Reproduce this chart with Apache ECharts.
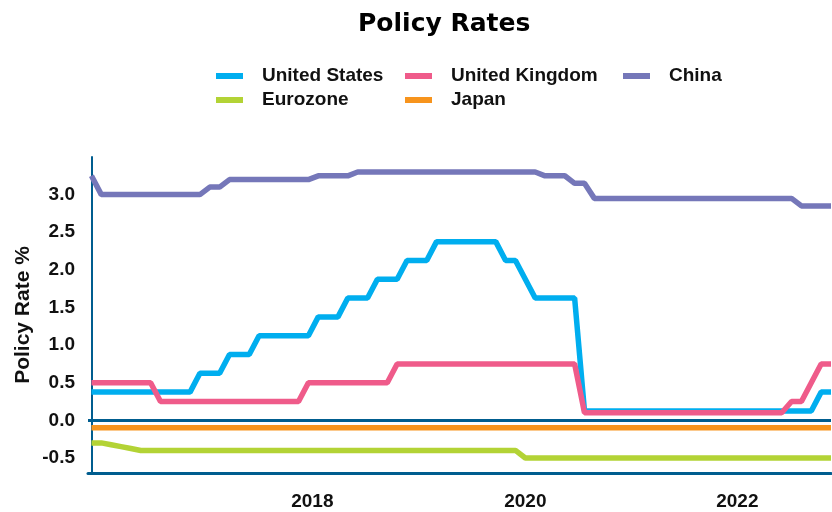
<!DOCTYPE html>
<html>
<head>
<meta charset="utf-8">
<script src="https://cdn.jsdelivr.net/npm/echarts@6/dist/echarts.min.js"></script>
<style>
  html, body { margin: 0; padding: 0; background: #fff; }
  #chart { width: 832px; height: 512px; }
</style>
</head>
<body>
<div id="chart"></div>
<script>
// month-end policy rates, Jan 2016 .. Apr 2022 (index 0..75)
const months = [];
for (let y = 2016; y <= 2022; y++) {
  for (let m = 1; m <= 12; m++) {
    if (y === 2022 && m > 4) break;
    months.push(y + '-' + String(m).padStart(2, '0'));
  }
}

const usRates = [
  0.375, 0.375, 0.375, 0.375, 0.375, 0.375, 0.375, 0.375, 0.375, 0.375, 0.375, 0.625,
  0.625, 0.625, 0.875, 0.875, 0.875, 1.125, 1.125, 1.125, 1.125, 1.125, 1.125, 1.375,
  1.375, 1.375, 1.625, 1.625, 1.625, 1.875, 1.875, 1.875, 2.125, 2.125, 2.125, 2.375,
  2.375, 2.375, 2.375, 2.375, 2.375, 2.375, 2.125, 2.125, 1.875, 1.625, 1.625, 1.625,
  1.625, 1.625, 0.125, 0.125, 0.125, 0.125, 0.125, 0.125, 0.125, 0.125, 0.125, 0.125,
  0.125, 0.125, 0.125, 0.125, 0.125, 0.125, 0.125, 0.125, 0.125, 0.125, 0.125, 0.125,
  0.125, 0.125, 0.375, 0.375
];
const ukRates = [
  0.5, 0.5, 0.5, 0.5, 0.5, 0.5, 0.5, 0.25, 0.25, 0.25, 0.25, 0.25,
  0.25, 0.25, 0.25, 0.25, 0.25, 0.25, 0.25, 0.25, 0.25, 0.25, 0.5, 0.5,
  0.5, 0.5, 0.5, 0.5, 0.5, 0.5, 0.5, 0.75, 0.75, 0.75, 0.75, 0.75,
  0.75, 0.75, 0.75, 0.75, 0.75, 0.75, 0.75, 0.75, 0.75, 0.75, 0.75, 0.75,
  0.75, 0.75, 0.1, 0.1, 0.1, 0.1, 0.1, 0.1, 0.1, 0.1, 0.1, 0.1,
  0.1, 0.1, 0.1, 0.1, 0.1, 0.1, 0.1, 0.1, 0.1, 0.1, 0.1, 0.25,
  0.25, 0.5, 0.75, 0.75
];
const chinaRates = [
  3.25, 3.0, 3.0, 3.0, 3.0, 3.0, 3.0, 3.0, 3.0, 3.0, 3.0, 3.0,
  3.1, 3.1, 3.2, 3.2, 3.2, 3.2, 3.2, 3.2, 3.2, 3.2, 3.2, 3.25,
  3.25, 3.25, 3.25, 3.3, 3.3, 3.3, 3.3, 3.3, 3.3, 3.3, 3.3, 3.3,
  3.3, 3.3, 3.3, 3.3, 3.3, 3.3, 3.3, 3.3, 3.3, 3.3, 3.25, 3.25,
  3.25, 3.15, 3.15, 2.95, 2.95, 2.95, 2.95, 2.95, 2.95, 2.95, 2.95, 2.95,
  2.95, 2.95, 2.95, 2.95, 2.95, 2.95, 2.95, 2.95, 2.95, 2.95, 2.95, 2.95,
  2.85, 2.85, 2.85, 2.85
];
const euroRates = [
  -0.3, -0.3, -0.325, -0.35, -0.375, -0.4, -0.4, -0.4, -0.4, -0.4, -0.4, -0.4,
  -0.4, -0.4, -0.4, -0.4, -0.4, -0.4, -0.4, -0.4, -0.4, -0.4, -0.4, -0.4,
  -0.4, -0.4, -0.4, -0.4, -0.4, -0.4, -0.4, -0.4, -0.4, -0.4, -0.4, -0.4,
  -0.4, -0.4, -0.4, -0.4, -0.4, -0.4, -0.4, -0.4, -0.5, -0.5, -0.5, -0.5,
  -0.5, -0.5, -0.5, -0.5, -0.5, -0.5, -0.5, -0.5, -0.5, -0.5, -0.5, -0.5,
  -0.5, -0.5, -0.5, -0.5, -0.5, -0.5, -0.5, -0.5, -0.5, -0.5, -0.5, -0.5,
  -0.5, -0.5, -0.5, -0.5
];
const japanRates = months.map(() => -0.1);

// x tick labels and where they sit (month index)
const xTickLabels = ['2018', '2020', '2022'];
const xTickPos = [22.4, 44.0, 65.5];
const yTicks = [-0.5, 0, 0.5, 1.0, 1.5, 2.0, 2.5, 3.0];

const navy = '#005d8f';
const labelFont = "'Liberation Sans', Arial, sans-serif";

const toPairs = arr => arr.map((v, i) => [i, v]);

const chart = echarts.init(document.getElementById('chart'));

const lineSeries = (name, values, color) => ({
  name: name,
  type: 'line',
  data: toPairs(values),
  showSymbol: false,
  symbol: 'none',
  lineStyle: { width: 5.5, color: color },
  itemStyle: { color: color },
  emphasis: { disabled: true }
});

const legendBase = {
  orient: 'vertical',
  top: 65,
  padding: 0,
  itemGap: 2,
  itemWidth: 27,
  itemHeight: 6,
  icon: 'rect',
  textStyle: {
    fontFamily: labelFont,
    fontWeight: 'bold',
    fontSize: 19,
    color: '#111',
    lineHeight: 22,
    padding: [0, 0, 0, 14]
  }
};

const option = {
  animation: false,
  backgroundColor: '#fff',
  title: {
    text: 'Policy Rates',
    left: 353,
    top: 7,
    textStyle: {
      fontFamily: "'DejaVu Sans', sans-serif",
      fontWeight: 'bold',
      fontSize: 25,
      color: '#000'
    }
  },
  legend: [
    Object.assign({}, legendBase, { left: 216, data: ['United States', 'Eurozone'] }),
    Object.assign({}, legendBase, { left: 405, data: ['United Kingdom', 'Japan'] }),
    Object.assign({}, legendBase, { left: 623, data: ['China'] })
  ],
  grid: { left: 88, right: 1, top: 157, bottom: 39, outerBoundsMode: 'none' },
  xAxis: {
    type: 'value',
    min: -0.35,
    max: 75,
    splitLine: { show: false },
    axisTick: { show: false },
    axisLine: { show: true, onZero: false, lineStyle: { color: navy, width: 3 } },
    axisLabel: {
      customValues: xTickPos,
      formatter: v => {
        const k = xTickPos.indexOf(v);
        return k >= 0 ? xTickLabels[k] : '';
      },
      margin: 19,
      fontFamily: labelFont,
      fontWeight: 'bold',
      fontSize: 19,
      color: '#111'
    }
  },
  yAxis: {
    type: 'value',
    min: -0.7,
    max: 3.5,
    name: 'Policy Rate %',
    nameLocation: 'middle',
    nameRotate: 90,
    nameGap: 54,
    nameMoveOverlap: false,
    nameTextStyle: {
      fontFamily: labelFont,
      fontWeight: 'bold',
      fontSize: 21,
      color: '#111'
    },
    splitLine: { show: false },
    axisTick: { show: false },
    axisLine: { show: true, lineStyle: { color: navy, width: 2 } },
    axisLabel: {
      customValues: yTicks,
      formatter: v => v.toFixed(1),
      margin: 13,
      fontFamily: labelFont,
      fontWeight: 'bold',
      fontSize: 19,
      color: '#111'
    }
  },
  series: [
    Object.assign(lineSeries('United States', usRates, '#00aeef'), {
      markLine: {
        silent: true,
        symbol: 'none',
        label: { show: false },
        lineStyle: { color: navy, width: 3, type: 'solid' },
        data: [{ yAxis: 0 }]
      }
    }),
    lineSeries('United Kingdom', ukRates, '#ef5b8a'),
    lineSeries('China', chinaRates, '#7577b9'),
    lineSeries('Eurozone', euroRates, '#b3d335'),
    lineSeries('Japan', japanRates, '#f7941d')
  ]
};

chart.setOption(option);
</script>
</body>
</html>
